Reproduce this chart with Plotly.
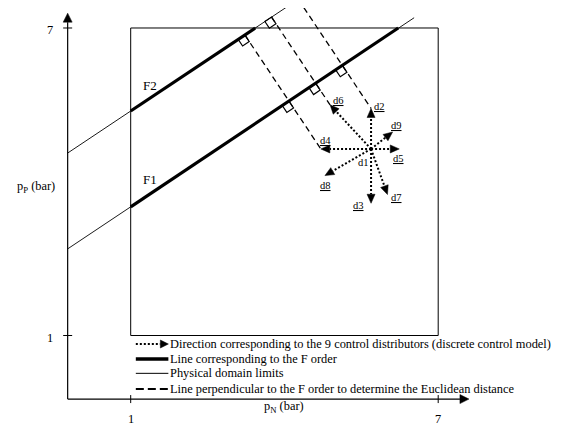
import numpy as np
import plotly.graph_objects as go

# ---------------- data ----------------
tick_vals = [1, 7]
tick_labels = ["1", "7"]
x_title = "p<sub>N</sub> (bar)"
y_title = "p<sub>P</sub> (bar)"

domain_min = 1
domain_max = 7

axis_origin = [-0.23, -0.24]
x_axis_end = 7.60
y_axis_end = 7.29

f_labels = ["F1", "F2"]
f1_thin_x = [-0.23, 6.53]
f1_thin_y = [2.69, 7.20]
f1_thick_x = [1.0, 6.22]
f1_thick_y = [3.51, 7.0]
f2_thin_x = [-0.23, 4.33]
f2_thin_y = [4.56, 7.60]
f2_thick_x = [1.0, 3.43]
f2_thick_y = [5.38, 7.0]

d1_center = [5.69, 4.64]
dir_names = ["d2", "d3", "d4", "d5", "d6", "d7", "d8", "d9"]
dir_end_x = [5.69, 5.69, 4.71, 6.24, 4.89, 6.01, 4.79, 6.11]
dir_end_y = [5.43, 3.58, 4.64, 4.64, 5.50, 3.75, 4.12, 4.97]

perp_targets = ["d4", "d6", "d2"]

legend_labels = [
    "Direction corresponding to the 9 control distributors (discrete control model)",
    "Line corresponding to the F order",
    "Physical domain limits",
    "Line perpendicular to the F order to determine the Euclidean distance",
]

# ---------------- layout constants ----------------
# the page body has an 8px margin, so the figure is 8px smaller and the
# ranges start 8px into the reference picture
W, H = 557, 419
X_RANGE = [-1.394, 9.474]
Y_RANGE = [-0.785, 7.390]
PX = W / (X_RANGE[1] - X_RANGE[0])  # pixels per data unit
FONT = "Liberation Serif"
BLACK = "#000000"

fig = go.Figure()


def line(xs, ys, width=1.0, dash=None, color=BLACK):
    fig.add_trace(go.Scatter(
        x=xs, y=ys, mode="lines", hoverinfo="skip", showlegend=False,
        line=dict(color=color, width=width, dash=dash),
    ))


def head(tip, direction, length_px=9.0, half_px=4.0):
    d = np.asarray(direction, float)
    u = d / np.linalg.norm(d)
    n = np.array([-u[1], u[0]])
    t = np.asarray(tip, float)
    b = t - u * length_px / PX
    p1 = b + n * half_px / PX
    p2 = b - n * half_px / PX
    fig.add_trace(go.Scatter(
        x=[t[0], p1[0], p2[0], t[0]], y=[t[1], p1[1], p2[1], t[1]],
        mode="lines", fill="toself", fillcolor=BLACK, hoverinfo="skip",
        line=dict(color=BLACK, width=0.5), showlegend=False,
    ))
    return b


def dotted_arrow(start, tip, length_px=9.0, half_px=4.0):
    start = np.asarray(start, float)
    tip = np.asarray(tip, float)
    base = head(tip, tip - start, length_px, half_px)
    line([start[0], base[0]], [start[1], base[1]], width=2, dash="2px,2px")


# physical domain box
line([domain_min, domain_max, domain_max, domain_min, domain_min],
     [domain_min, domain_min, domain_max, domain_max, domain_min], width=1.0)

# axes with arrows
ox, oy = axis_origin
bx = head([x_axis_end, oy], [1, 0], 9, 4.5)
line([ox, bx[0]], [oy, oy], width=1.2)
by = head([ox, y_axis_end], [0, 1], 9, 4.5)
line([ox, ox], [oy, by[1]], width=1.2)

# tick marks
for v in tick_vals:
    line([ox - 4.5 / PX, ox + 4.5 / PX], [v, v], width=1.0)
    line([v, v], [oy - 4 / PX, oy + 4 / PX], width=1.0)

# F lines
line(f1_thin_x, f1_thin_y, width=0.9)
line(f2_thin_x, f2_thin_y, width=0.9)
line(f1_thick_x, f1_thick_y, width=3.2)
line(f2_thick_x, f2_thick_y, width=3.2)

# direction arrows
for nm, ex, ey in zip(dir_names, dir_end_x, dir_end_y):
    dotted_arrow(d1_center, [ex, ey])

# perpendicular dashed lines with right-angle squares
A2 = np.array([f2_thin_x[0], f2_thin_y[0]])
v = np.array([f2_thin_x[1] - f2_thin_x[0], f2_thin_y[1] - f2_thin_y[0]])
v = v / np.linalg.norm(v)
A1 = np.array([f1_thin_x[0], f1_thin_y[0]])
sq_x, sq_y = [], []
for nm in perp_targets:
    i = dir_names.index(nm)
    T = np.array([dir_end_x[i], dir_end_y[i]])
    foot2 = A2 + np.dot(T - A2, v) * v
    foot1 = A1 + np.dot(T - A1, v) * v
    line([foot2[0], T[0]], [foot2[1], T[1]], width=1.3, dash="6px,4px")
    p = (T - foot2) / np.linalg.norm(T - foot2)
    bis = (-v + p) / np.linalg.norm(-v + p)
    off = bis * (8 / np.sqrt(2)) / PX
    for f in (foot1, foot2):
        c = f + off
        sq_x.append(c[0])
        sq_y.append(c[1])
angle = -np.degrees(np.arctan2(v[1], v[0]))
fig.add_trace(go.Scatter(
    x=sq_x, y=sq_y, mode="markers", hoverinfo="skip", showlegend=False,
    cliponaxis=False,
    marker=dict(symbol="square-open", size=8, angle=angle,
                color=BLACK, line=dict(color=BLACK, width=1.2)),
))

annotations = []


def text(x, y, s, size=12, xshift=0, yshift=0, xanchor="center"):
    annotations.append(dict(
        x=x, y=y, xref="x", yref="y", text=s, showarrow=False,
        xanchor=xanchor, yanchor="middle", xshift=xshift, yshift=yshift,
        font=dict(family=FONT, size=size, color=BLACK),
    ))


# tick labels
for v_, lab in zip(tick_vals, tick_labels):
    text(ox, v_, lab, size=12.4, xshift=-18, yshift=-2)
    text(v_, oy, lab, size=12.4, yshift=-20)

# axis titles
text(ox, 3.9, y_title, size=12.4, xshift=-32)
text(4.0, oy, x_title, size=12.4, yshift=-8)

# F labels
text(1.38, 3.51, f_labels[0], size=13, yshift=27)
text(1.38, 5.38, f_labels[1], size=13, yshift=26)

# direction labels
label_offsets = {
    "d2": (8, 1.5), "d3": (-12.5, -2), "d4": (5, 8.5), "d5": (-0.5, -9.5),
    "d6": (8, 4), "d7": (9.5, -2.5), "d8": (1, -10), "d9": (4, 6.5),
}
for nm, ex, ey in zip(dir_names, dir_end_x, dir_end_y):
    dx, dy = label_offsets[nm]
    text(ex, ey, "<u>" + nm + "</u>", size=10.5, xshift=dx, yshift=dy)
text(d1_center[0], d1_center[1], "d1", size=10.5, xshift=-7.5, yshift=-14)

# legend (drawn manually)
leg_x0, leg_x1, leg_tx = 1.10, 1.735, 1.775
leg_rows = [0.834, 0.541, 0.262, -0.044]
dotted_arrow([leg_x0, leg_rows[0]], [leg_x1, leg_rows[0]], 8, 4)
line([leg_x0, leg_x1], [leg_rows[1], leg_rows[1]], width=3.5)
line([leg_x0, leg_x1], [leg_rows[2], leg_rows[2]], width=1.0)
line([leg_x0, leg_x1], [leg_rows[3], leg_rows[3]], width=2, dash="8px,4px")
for r, lab in zip(leg_rows, legend_labels):
    text(leg_tx, r, lab, size=12.4, xanchor="left", xshift=-2)

fig.update_layout(
    width=W, height=H,
    margin=dict(l=0, r=0, t=0, b=0, pad=0),
    paper_bgcolor="white", plot_bgcolor="white",
    xaxis=dict(range=X_RANGE, visible=False, fixedrange=True),
    yaxis=dict(range=Y_RANGE, visible=False, fixedrange=True),
    annotations=annotations,
    showlegend=False,
)

fig.write_html("out.html")
